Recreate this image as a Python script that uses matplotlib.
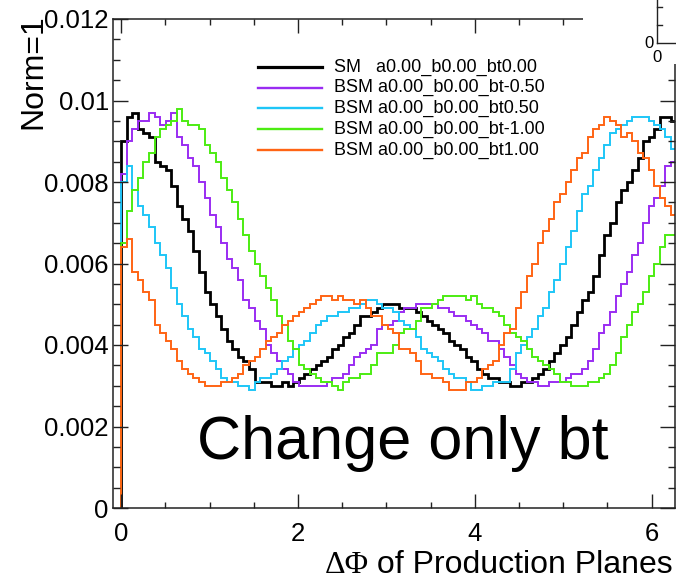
import numpy as np
import matplotlib
matplotlib.use("Agg")
import matplotlib.pyplot as plt
from matplotlib.lines import Line2D
from matplotlib.patches import Rectangle
from matplotlib.ticker import MultipleLocator, FixedLocator, FixedFormatter

plt.rcParams['font.family'] = ['Liberation Sans', 'DejaVu Sans']

# ---------------- data ----------------
n_bins = 100
x_min, x_max = 0.0, 2 * np.pi

labels = ["SM   a0.00_b0.00_bt0.00",
          "BSM a0.00_b0.00_bt-0.50",
          "BSM a0.00_b0.00_bt0.50",
          "BSM a0.00_b0.00_bt-1.00",
          "BSM a0.00_b0.00_bt1.00"]

sm_bt0 = [
    0.0090, 0.0096, 0.0097, 0.0093, 0.0092, 0.0091, 0.0085, 0.0084, 0.0083, 0.0079,
    0.0074, 0.0071, 0.0068, 0.0063, 0.0058, 0.0053, 0.0050, 0.0047, 0.0044, 0.0041,
    0.0039, 0.0037, 0.0036, 0.0034, 0.0031, 0.0031, 0.0031, 0.0030, 0.0030, 0.0031,
    0.0030, 0.0031, 0.0032, 0.0033, 0.0034, 0.0035, 0.0036, 0.0037, 0.0039, 0.0040,
    0.0042, 0.0043, 0.0045, 0.0047, 0.0047, 0.0048, 0.0049, 0.0050, 0.0050, 0.0050,
    0.0049, 0.0049, 0.0049, 0.0048, 0.0047, 0.0046, 0.0045, 0.0044, 0.0043, 0.0041,
    0.0040, 0.0039, 0.0037, 0.0036, 0.0034, 0.0033, 0.0032, 0.0032, 0.0031, 0.0031,
    0.0030, 0.0030, 0.0031, 0.0031, 0.0032, 0.0033, 0.0034, 0.0036, 0.0038, 0.0040,
    0.0042, 0.0045, 0.0048, 0.0051, 0.0053, 0.0057, 0.0062, 0.0067, 0.0070, 0.0075,
    0.0078, 0.0080, 0.0083, 0.0086, 0.0090, 0.0091, 0.0093, 0.0096, 0.0096, 0.0095]

bsm_btm050 = [
    0.0082, 0.0090, 0.0093, 0.0095, 0.0095, 0.0097, 0.0096, 0.0094, 0.0095, 0.0097,
    0.0091, 0.0089, 0.0086, 0.0084, 0.0080, 0.0076, 0.0072, 0.0069, 0.0065, 0.0061,
    0.0059, 0.0056, 0.0051, 0.0049, 0.0046, 0.0044, 0.0040, 0.0038, 0.0036, 0.0034,
    0.0033, 0.0031, 0.0030, 0.0030, 0.0030, 0.0030, 0.0030, 0.0031, 0.0032, 0.0032,
    0.0033, 0.0035, 0.0037, 0.0038, 0.0039, 0.0040, 0.0044, 0.0045, 0.0045, 0.0046,
    0.0048, 0.0049, 0.0049, 0.0050, 0.0050, 0.0050, 0.0050, 0.0049, 0.0049, 0.0048,
    0.0047, 0.0047, 0.0046, 0.0045, 0.0044, 0.0043, 0.0041, 0.0041, 0.0039, 0.0037,
    0.0035, 0.0033, 0.0032, 0.0031, 0.0031, 0.0030, 0.0030, 0.0031, 0.0031, 0.0031,
    0.0032, 0.0033, 0.0033, 0.0034, 0.0036, 0.0039, 0.0043, 0.0045, 0.0048, 0.0052,
    0.0055, 0.0058, 0.0062, 0.0065, 0.0070, 0.0074, 0.0076, 0.0079, 0.0084, 0.0085]

bsm_bt050 = [
    0.0080, 0.0084, 0.0078, 0.0074, 0.0072, 0.0069, 0.0065, 0.0062, 0.0059, 0.0054,
    0.0050, 0.0047, 0.0044, 0.0042, 0.0039, 0.0038, 0.0036, 0.0034, 0.0032, 0.0031,
    0.0031, 0.0030, 0.0030, 0.0029, 0.0031, 0.0032, 0.0032, 0.0033, 0.0034, 0.0036,
    0.0037, 0.0039, 0.0040, 0.0041, 0.0043, 0.0045, 0.0046, 0.0047, 0.0047, 0.0048,
    0.0048, 0.0049, 0.0049, 0.0050, 0.0051, 0.0051, 0.0050, 0.0049, 0.0049, 0.0048,
    0.0046, 0.0045, 0.0044, 0.0042, 0.0039, 0.0038, 0.0037, 0.0036, 0.0034, 0.0033,
    0.0032, 0.0032, 0.0031, 0.0029, 0.0029, 0.0030, 0.0030, 0.0031, 0.0031, 0.0031,
    0.0034, 0.0038, 0.0040, 0.0042, 0.0044, 0.0047, 0.0049, 0.0053, 0.0056, 0.0060,
    0.0064, 0.0068, 0.0073, 0.0077, 0.0079, 0.0083, 0.0086, 0.0089, 0.0092, 0.0093,
    0.0094, 0.0095, 0.0096, 0.0096, 0.0096, 0.0095, 0.0094, 0.0093, 0.0091, 0.0088]

bsm_btm100 = [
    0.0065, 0.0073, 0.0078, 0.0081, 0.0085, 0.0087, 0.0091, 0.0093, 0.0094, 0.0095,
    0.0098, 0.0095, 0.0094, 0.0094, 0.0093, 0.0089, 0.0087, 0.0085, 0.0081, 0.0078,
    0.0075, 0.0071, 0.0067, 0.0063, 0.0060, 0.0057, 0.0054, 0.0051, 0.0047, 0.0045,
    0.0041, 0.0039, 0.0035, 0.0034, 0.0033, 0.0032, 0.0031, 0.0031, 0.0030, 0.0029,
    0.0031, 0.0032, 0.0032, 0.0033, 0.0033, 0.0035, 0.0038, 0.0038, 0.0038, 0.0040,
    0.0043, 0.0044, 0.0044, 0.0046, 0.0049, 0.0049, 0.0050, 0.0051, 0.0052, 0.0052,
    0.0052, 0.0052, 0.0051, 0.0052, 0.0050, 0.0049, 0.0049, 0.0048, 0.0047, 0.0045,
    0.0043, 0.0042, 0.0041, 0.0039, 0.0037, 0.0036, 0.0035, 0.0034, 0.0033, 0.0031,
    0.0031, 0.0030, 0.0030, 0.0030, 0.0031, 0.0031, 0.0032, 0.0033, 0.0035, 0.0038,
    0.0042, 0.0045, 0.0048, 0.0050, 0.0053, 0.0057, 0.0060, 0.0064, 0.0067, 0.0067]

bsm_bt100 = [
    0.0064, 0.0066, 0.0058, 0.0056, 0.0053, 0.0051, 0.0045, 0.0043, 0.0041, 0.0039,
    0.0036, 0.0034, 0.0033, 0.0032, 0.0031, 0.0030, 0.0030, 0.0030, 0.0031, 0.0031,
    0.0032, 0.0033, 0.0035, 0.0036, 0.0037, 0.0039, 0.0041, 0.0042, 0.0043, 0.0045,
    0.0046, 0.0047, 0.0048, 0.0049, 0.0050, 0.0051, 0.0052, 0.0052, 0.0051, 0.0052,
    0.0051, 0.0051, 0.0050, 0.0051, 0.0049, 0.0047, 0.0047, 0.0045, 0.0044, 0.0043,
    0.0039, 0.0039, 0.0038, 0.0036, 0.0033, 0.0033, 0.0032, 0.0032, 0.0031, 0.0029,
    0.0029, 0.0029, 0.0031, 0.0031, 0.0032, 0.0034, 0.0035, 0.0036, 0.0040, 0.0043,
    0.0044, 0.0049, 0.0053, 0.0057, 0.0060, 0.0065, 0.0068, 0.0071, 0.0075, 0.0077,
    0.0080, 0.0083, 0.0086, 0.0087, 0.0091, 0.0093, 0.0094, 0.0096, 0.0095, 0.0094,
    0.0091, 0.0092, 0.0090, 0.0087, 0.0086, 0.0083, 0.0079, 0.0076, 0.0074, 0.0072]

series = [sm_bt0, bsm_btm050, bsm_bt050, bsm_btm100, bsm_bt100]
colors = ['#000000', '#9a2cf2', '#1ec6f7', '#4cec12', '#ff6414']
widths = [2.0, 1.4, 1.4, 1.4, 1.4]

y_ticks = [0, 0.002, 0.004, 0.006, 0.008, 0.010, 0.012]
y_tick_labels = ["0", "0.002", "0.004", "0.006", "0.008", "0.01", "0.012"]
x_ticks = [0, 2, 4, 6]
x_tick_labels = ["0", "2", "4", "6"]

# ---------------- figure ----------------
W, H = 676, 584
fig = plt.figure(figsize=(W / 100, H / 100), dpi=100)
fig.patch.set_facecolor('white')

L, R, T, B = 113, 675, 19, 508
ax = fig.add_axes([L / W, 1 - B / H, (R - L) / W, (B - T) / H])

edges = np.linspace(x_min, x_max, n_bins + 1)
for vals, c, lw in zip(series, colors, widths):
    ax.stairs(vals, edges, baseline=0, color=c, lw=lw, fill=False)

ax.set_xlim(-0.093, 6.265)
ax.set_ylim(0, 0.012)

ax.xaxis.set_major_locator(FixedLocator(x_ticks))
ax.xaxis.set_major_formatter(FixedFormatter(x_tick_labels))
ax.xaxis.set_minor_locator(MultipleLocator(0.5))
ax.yaxis.set_major_locator(FixedLocator(y_ticks))
ax.yaxis.set_major_formatter(FixedFormatter(y_tick_labels))
ax.yaxis.set_minor_locator(MultipleLocator(0.0005))

ax.tick_params(axis='both', which='both', direction='in', top=True, right=True,
               width=1.0, color='#222222')
ax.tick_params(axis='x', which='major', length=10, pad=10, labelsize=18.5)
ax.tick_params(axis='x', which='minor', length=4.5)
ax.tick_params(axis='y', which='major', length=11, pad=3, labelsize=18.5)
ax.tick_params(axis='y', which='minor', length=5)
for s in ax.spines.values():
    s.set_linewidth(1.1)
    s.set_color('#222222')

# axis titles
fig.text(33 / W, 1 - 14 / H, "Norm=1", rotation=90, ha='center', va='top', fontsize=23)
t2 = fig.text(673 / W, 1 - 573 / H, " of Production Planes", ha='right',
              va='baseline', fontsize=23)
fig.canvas.draw()
bb = t2.get_window_extent()
fig.text(bb.x0 / fig.bbox.width, 1 - 573 / H, "ΔΦ", ha='right', va='baseline',
         fontsize=23, family=['Liberation Serif', 'DejaVu Serif'])

# big annotation
fig.text(197 / W, 1 - 459 / H, "Change only bt", ha='left', va='baseline', fontsize=44)

# legend (drawn by hand to match ROOT TLegend)
rows_y = [67, 87.5, 108, 129, 150]
for lab, c, lw, yy in zip(labels, colors, widths, rows_y):
    fig.add_artist(Line2D([258 / W, 322 / W], [1 - yy / H, 1 - yy / H],
                          color=c, lw=lw + 0.3, transform=fig.transFigure))
    fig.text(334 / W, 1 - yy / H, lab, ha='left', va='center', fontsize=13)

# piece of a neighbouring pad in the top-right corner
fig.add_artist(Rectangle((583 / W, 1 - 64 / H), (W - 583) / W, 64 / H,
                         facecolor='white', edgecolor='none',
                         transform=fig.transFigure, zorder=5))
fig.add_artist(Line2D([657 / W, 657 / W], [1.0, 1 - 43 / H], color='#222222', lw=1.0,
                      transform=fig.transFigure, zorder=6))
fig.add_artist(Line2D([657 / W, 1.0], [1 - 43 / H, 1 - 43 / H], color='#222222', lw=1.0,
                      transform=fig.transFigure, zorder=6))
for ty in [7, 25]:
    fig.add_artist(Line2D([657 / W, 662 / W], [1 - ty / H, 1 - ty / H], color='#222222',
                          lw=1.0, transform=fig.transFigure, zorder=6))
fig.text(649 / W, 1 - 43 / H, "0", ha='center', va='center', fontsize=12, zorder=7)
fig.text(657 / W, 1 - 57 / H, "0", ha='center', va='center', fontsize=12, zorder=7)

fig.savefig("out.png", dpi=100)
